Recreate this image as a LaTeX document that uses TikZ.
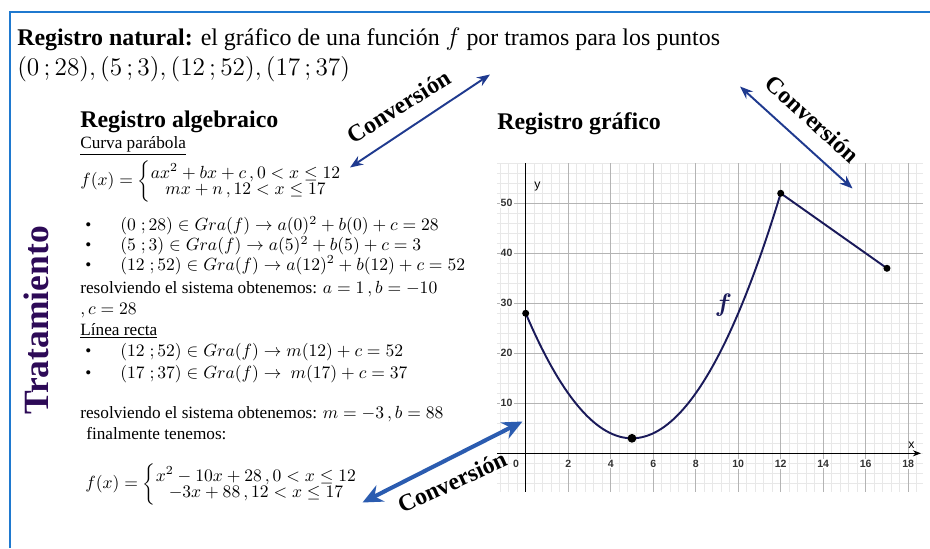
\documentclass[tikz,border=0pt]{standalone}
\usepackage{fontspec}
\setmainfont{Liberation Serif}
\setsansfont{Liberation Sans}
\usepackage{amsmath,amssymb}
\usetikzlibrary{arrows.meta}
\definecolor{frameblue}{HTML}{1F79CF}
\definecolor{convdark}{HTML}{1F3A8F}
\definecolor{convmid}{HTML}{2B5CB0}
\definecolor{tratpurple}{HTML}{2D0A57}
\definecolor{curvenavy}{HTML}{1A1A5A}
\definecolor{gridminor}{HTML}{E8E8E8}
\definecolor{gridmajor}{HTML}{B4B4B4}

\begin{document}
\begin{tikzpicture}[>={Stealth[length=2.6mm, width=2mm]},
  head/.style={anchor=base west, inner sep=0pt, font=\fontsize{13.6}{16}\selectfont},
  body/.style={anchor=base west, inner sep=0pt, font=\fontsize{9.8}{12}\selectfont},
  conv/.style={font=\fontsize{13.6}{16}\selectfont\bfseries},
  ticklab/.style={font=\fontsize{6}{7}\sffamily\bfseries, text=black!80, fill=white, inner sep=0.6pt}]

% Canvas: 930 x 548 px, 1 cm = 50 px, origin bottom left
\fill[white] (0,0) rectangle (18.6,10.96);
\useasboundingbox (0,0) rectangle (18.6,10.96);

% Frame (left and top edges only)
\draw[frameblue, line width=1.3pt] (0.2,0) -- (0.2,10.72) -- (18.6,10.72);

% Natural register
\node[head] (natural) at (0.34,10.04)
  {\textbf{Registro natural:} el gráfico de una función $f$ por tramos para los puntos};
\node[head] (puntos) at (0.34,9.44) {$(0\,;28),(5\,;3),(12\,;52),(17\,;37)$};

% Treatment label
\node[text=tratpurple, font=\fontsize{20.2}{24}\selectfont\bfseries, rotate=90] (trat) at (0.73,4.55) {Tratamiento};

% Algebraic register
\node[head, font=\fontsize{13.6}{16}\selectfont\bfseries] (alghead) at (1.6,8.42) {Registro algebraico};
\node[body] (parab) at (1.6,7.99) {\underline{Curva parábola}};
\node[body, anchor=west] (fgen) at (1.6,7.33)
  {\renewcommand{\arraystretch}{0.75}%
   $f(x)=\left\{\begin{array}{@{}c@{}}ax^2+bx+c\,,0<x\le 12\\ mx+n\,,12<x\le 17\end{array}\right.$};

\node[body] (b1) at (1.7,6.35) {\textbullet};
\node[body] (e1) at (2.4,6.35) {$(0\;;28)\in Gra(f)\to a(0)^2+b(0)+c=28$};
\node[body] (b2) at (1.7,5.95) {\textbullet};
\node[body] (e2) at (2.4,5.95) {$(5\;;3)\in Gra(f)\to a(5)^2+b(5)+c=3$};
\node[body] (b3) at (1.7,5.56) {\textbullet};
\node[body] (e3) at (2.4,5.56) {$(12\;;52)\in Gra(f)\to a(12)^2+b(12)+c=52$};
\node[body] (sol1) at (1.6,5.09) {resolviendo el sistema obtenemos: $a=1\,,b=-10$};
\node[body] (sol1b) at (1.6,4.68) {$,c=28$};

\node[body] (recta) at (1.6,4.26) {\underline{Línea recta}};
\node[body] (b4) at (1.7,3.83) {\textbullet};
\node[body] (e4) at (2.4,3.83) {$(12\;;52)\in Gra(f)\to m(12)+c=52$};
\node[body] (b5) at (1.7,3.39) {\textbullet};
\node[body] (e5) at (2.4,3.39) {$(17\;;37)\in Gra(f)\to\ m(17)+c=37$};

\node[body] (sol2) at (1.6,2.59) {resolviendo el sistema obtenemos: $m=-3\,,b=88$};
\node[body] (fin) at (1.72,2.18) {finalmente tenemos:};
\node[body, anchor=west] (ffin) at (1.7,1.27)
  {\renewcommand{\arraystretch}{0.75}%
   $f(x)=\left\{\begin{array}{@{}c@{}}x^2-10x+28\,,0<x\le 12\\ -3x+88\,,12<x\le 17\end{array}\right.$};

% Graphic register
\node[head, font=\fontsize{13.6}{16}\selectfont\bfseries] (grafhead) at (9.94,8.38) {Registro gráfico};

% Graph: origin at canvas (10.514,1.894), 1 unit x = 0.425 cm, 1 unit y = 0.1 cm
\begin{scope}[shift={(10.514,1.894)}, x=0.425cm, y=0.1cm]
  % minor grid
  \foreach \i in {-3,...,46}
    \draw[gridminor, line width=0.3pt] (\i*0.4,-7.7) -- (\i*0.4,58);
  \foreach \j in {-3,...,29}
    \draw[gridminor, line width=0.3pt] (-1.35,\j*2) -- (18.7,\j*2);
  % major grid
  \foreach \i in {2,4,...,18}
    \draw[gridmajor, line width=0.6pt] (\i,-7.7) -- (\i,58);
  \foreach \j in {10,20,...,50}
    \draw[gridmajor, line width=0.6pt] (-1.35,\j) -- (18.7,\j);

  % axes
  \draw[black, line width=0.7pt, -{Stealth[length=1.6mm, width=1.2mm]}] (-1.35,0) -- (18.6,0);
  \draw[black, line width=0.7pt] (0,-7.7) -- (0,58);
  \node[font=\fontsize{7}{8}\sffamily] (xlab) at (18.15,1.6) {x};
  \node[font=\fontsize{7}{8}\sffamily] (ylab) at (0.55,53.3) {y};

  % tick labels
  \node[ticklab] (xl0) at (-0.45,-2.1) {0};
  \foreach \i in {2,4,...,18}
    \node[ticklab] (xl\i) at (\i,-2.1) {\i};
  \foreach \j in {10,20,...,50}
    \node[ticklab] (yl\j) at (-0.9,\j) {\j};

  % f: parabola on (0,12], line on (12,17]
  \coordinate (p0) at (0,28);
  \coordinate (p5) at (5,3);
  \coordinate (p12) at (12,52);
  \coordinate (p17) at (17,37);
  \draw[curvenavy, line width=1.1pt, domain=0:12, samples=80]
    plot (\x, {\x*\x-10*\x+28});
  \draw[curvenavy, line width=1.1pt] (p12) -- (p17);
  \fill[black] (p0) circle (2pt);
  \fill[black] (p5) circle (2.5pt);
  \fill[black] (p12) circle (2pt);
  \fill[black] (p17) circle (2pt);
  \node[text=curvenavy, font=\fontsize{15}{17}\selectfont\bfseries] (flab) at (9.3,29.7) {$\boldsymbol{f}$};
\end{scope}

% Conversion arrows
\coordinate (cv1a) at (7.0,7.61);
\coordinate (cv1b) at (9.8,9.47);
\draw[convdark, line width=1.1pt, <->] (cv1a) -- (cv1b);
\node[conv, rotate=32] (cvt1) at (7.98,8.83) {Conversión};

\coordinate (cv2a) at (14.8,9.23);
\coordinate (cv2b) at (17.05,7.19);
\draw[convdark, line width=1.1pt, <->] (cv2a) -- (cv2b);
\node[conv, rotate=-42.6] (cvt2) at (16.25,8.58) {Conversión};

\coordinate (cv3a) at (7.25,0.91);
\coordinate (cv3b) at (10.45,2.53);
\draw[convmid, line width=2.3pt, {Stealth[length=4mm, width=3.6mm]}-{Stealth[length=4mm, width=3.6mm]}] (cv3a) -- (cv3b);
\node[conv, rotate=24.8] (cvt3) at (9.04,1.32) {Conversión};

\end{tikzpicture}
\end{document}
